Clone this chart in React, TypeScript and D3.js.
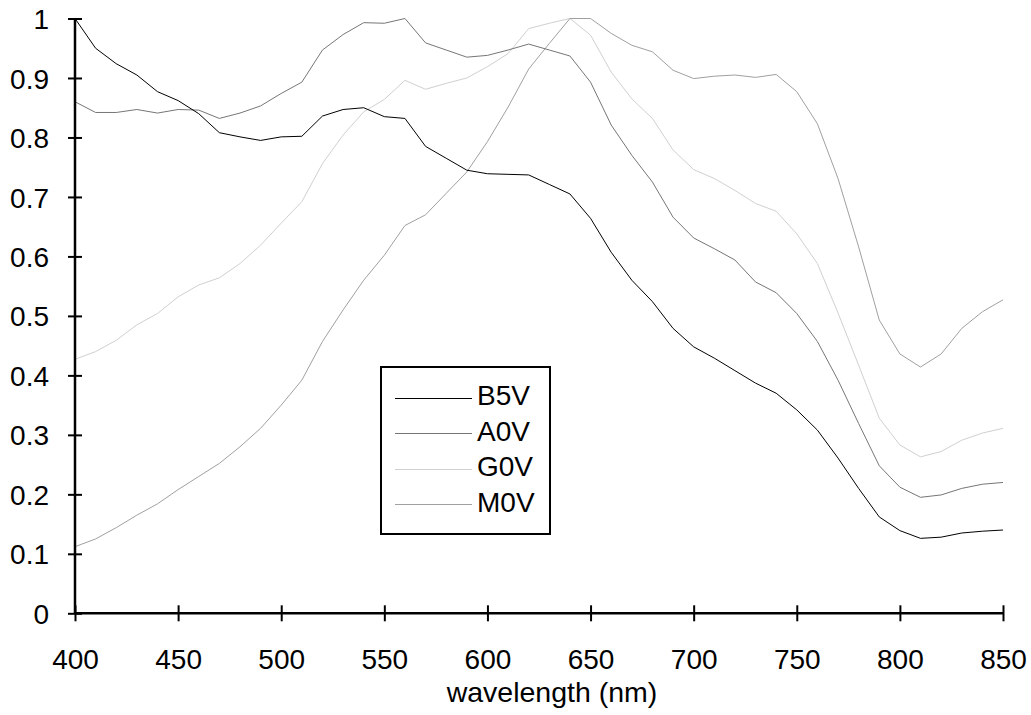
import React, { useEffect, useRef } from 'react';
import * as d3 from 'd3';

const wavelengths = [
  400, 410, 420, 430, 440, 450, 460, 470, 480, 490, 500, 510, 520, 530, 540, 550,
  560, 570, 580, 590, 600, 610, 620, 630, 640, 650, 660, 670, 680, 690, 700, 710,
  720, 730, 740, 750, 760, 770, 780, 790, 800, 810, 820, 830, 840, 850
];

const b5v = [
  1.0, 0.95, 0.924, 0.905, 0.877, 0.862, 0.84, 0.808, 0.801, 0.795, 0.801, 0.802,
  0.836, 0.847, 0.85, 0.835, 0.832, 0.785, 0.765, 0.745, 0.739, 0.738, 0.737, 0.721,
  0.705, 0.664, 0.607, 0.56, 0.524, 0.479, 0.448, 0.429, 0.408, 0.387, 0.37, 0.342,
  0.308, 0.261, 0.21, 0.162, 0.139, 0.126, 0.128, 0.135, 0.138, 0.14
];

const a0v = [
  0.86, 0.842, 0.842, 0.847, 0.841, 0.847, 0.846, 0.832, 0.841, 0.853, 0.874, 0.893,
  0.947, 0.973, 0.993, 0.992, 1.0, 0.959, 0.947, 0.935, 0.938, 0.947, 0.957, 0.947,
  0.937, 0.893, 0.821, 0.77, 0.725, 0.666, 0.631, 0.613, 0.594, 0.557, 0.539, 0.504,
  0.457, 0.392, 0.319, 0.248, 0.212, 0.195, 0.199, 0.21, 0.217, 0.22
];

const g0v = [
  0.427, 0.44, 0.459, 0.485, 0.504, 0.532, 0.552, 0.564, 0.588, 0.619, 0.656, 0.692,
  0.756, 0.804, 0.843, 0.864, 0.896, 0.881, 0.891, 0.9, 0.919, 0.941, 0.983, 0.992,
  1.0, 0.972, 0.91, 0.865, 0.832, 0.779, 0.746, 0.731, 0.711, 0.689, 0.676, 0.638,
  0.588, 0.505, 0.417, 0.328, 0.283, 0.263, 0.272, 0.291, 0.303, 0.311
];

const m0v = [
  0.112, 0.125, 0.144, 0.165, 0.184, 0.208, 0.23, 0.252, 0.28, 0.311, 0.35, 0.392,
  0.457, 0.51, 0.56, 0.602, 0.652, 0.67, 0.706, 0.742, 0.793, 0.851, 0.915, 0.958,
  1.0, 1.0, 0.975, 0.955, 0.944, 0.913, 0.899, 0.903, 0.905, 0.901, 0.906, 0.877,
  0.823, 0.731, 0.616, 0.493, 0.436, 0.414, 0.436, 0.479, 0.507, 0.527
];

const seriesNames = ['B5V', 'A0V', 'G0V', 'M0V'];
const seriesColors = ['#000000', '#767676', '#d0d0d0', '#a0a0a0'];
const xTicks = [400, 450, 500, 550, 600, 650, 700, 750, 800, 850];
const yTicks = [0, 0.1, 0.2, 0.3, 0.4, 0.5, 0.6, 0.7, 0.8, 0.9, 1];

const FONT = '"Liberation Sans", Arial, sans-serif';

export default function App() {
  const ref = useRef<SVGSVGElement>(null);

  useEffect(() => {
    const width = 1031,
      height = 715;
    const margin = { top: 18.5, right: 28, bottom: 101.7, left: 75 };

    const svg = d3.select(ref.current);
    svg.selectAll('*').remove();

    const x = d3
      .scaleLinear()
      .domain([400, 850])
      .range([margin.left, width - margin.right]);

    const y = d3
      .scaleLinear()
      .domain([0, 1])
      .range([height - margin.bottom, margin.top]);

    const allSeries = [b5v, a0v, g0v, m0v];

    const line = d3
      .line<number>()
      .x((d, i) => x(wavelengths[i]))
      .y(d => y(d));

    // lightest first so the dark ones sit on top
    [2, 3, 1, 0].forEach(k => {
      svg
        .append('path')
        .attr('d', line(allSeries[k]))
        .attr('fill', 'none')
        .attr('stroke', seriesColors[k])
        .attr('stroke-width', 1)
        .attr('stroke-linejoin', 'round');
    });

    // y axis
    const yAxis = svg
      .append('g')
      .attr('transform', `translate(${margin.left},0)`)
      .call(d3.axisLeft(y).tickValues(yTicks).tickSize(7).tickFormat(d3.format('~g')));
    yAxis.select('.domain').remove();
    yAxis.selectAll('.tick line').attr('x1', -7).attr('x2', 7).attr('stroke', '#000').attr('stroke-width', 2);
    yAxis
      .selectAll('.tick text')
      .attr('x', -26)
      .attr('dy', '0.36em')
      .attr('font-family', FONT)
      .attr('font-size', 28)
      .attr('fill', '#000');

    // x axis
    const xAxis = svg
      .append('g')
      .attr('transform', `translate(0,${y(0)})`)
      .call(d3.axisBottom(x).tickValues(xTicks).tickSize(8));
    xAxis.select('.domain').remove();
    xAxis.selectAll('.tick line').attr('y1', -8).attr('y2', 8).attr('stroke', '#000').attr('stroke-width', 2);
    xAxis
      .selectAll('.tick text')
      .attr('y', 56)
      .attr('dy', 0)
      .attr('font-family', FONT)
      .attr('font-size', 28)
      .attr('fill', '#000');

    svg
      .append('line')
      .attr('x1', margin.left)
      .attr('x2', margin.left)
      .attr('y1', y(1))
      .attr('y2', y(0))
      .attr('stroke', '#000')
      .attr('stroke-width', 2.5);
    svg
      .append('line')
      .attr('x1', margin.left)
      .attr('x2', x(850))
      .attr('y1', y(0))
      .attr('y2', y(0))
      .attr('stroke', '#000')
      .attr('stroke-width', 2.5);

    svg
      .append('text')
      .attr('x', 552)
      .attr('y', 702)
      .attr('text-anchor', 'middle')
      .attr('font-family', FONT)
      .attr('font-size', 28.5)
      .text('wavelength (nm)');

    // legend
    const legend = svg.append('g').attr('transform', 'translate(381,367)');
    legend
      .append('rect')
      .attr('width', 169)
      .attr('height', 167)
      .attr('fill', '#fff')
      .attr('stroke', '#000')
      .attr('stroke-width', 2);

    seriesNames.forEach((name, i) => {
      const row = 30.5 + i * 35.5;
      legend
        .append('line')
        .attr('x1', 14)
        .attr('x2', 91)
        .attr('y1', Math.round(row) + 0.5)
        .attr('y2', Math.round(row) + 0.5)
        .attr('stroke', seriesColors[i])
        .attr('stroke-width', 1);
      legend
        .append('text')
        .attr('x', 96)
        .attr('y', row + 7.5)
        .attr('font-family', FONT)
        .attr('font-size', 28)
        .text(name);
    });
  }, []);

  return (
    <svg
      ref={ref}
      width={1031}
      height={715}
      style={{ position: 'absolute', left: 0, top: 0, background: '#fff' }}
    />
  );
}
